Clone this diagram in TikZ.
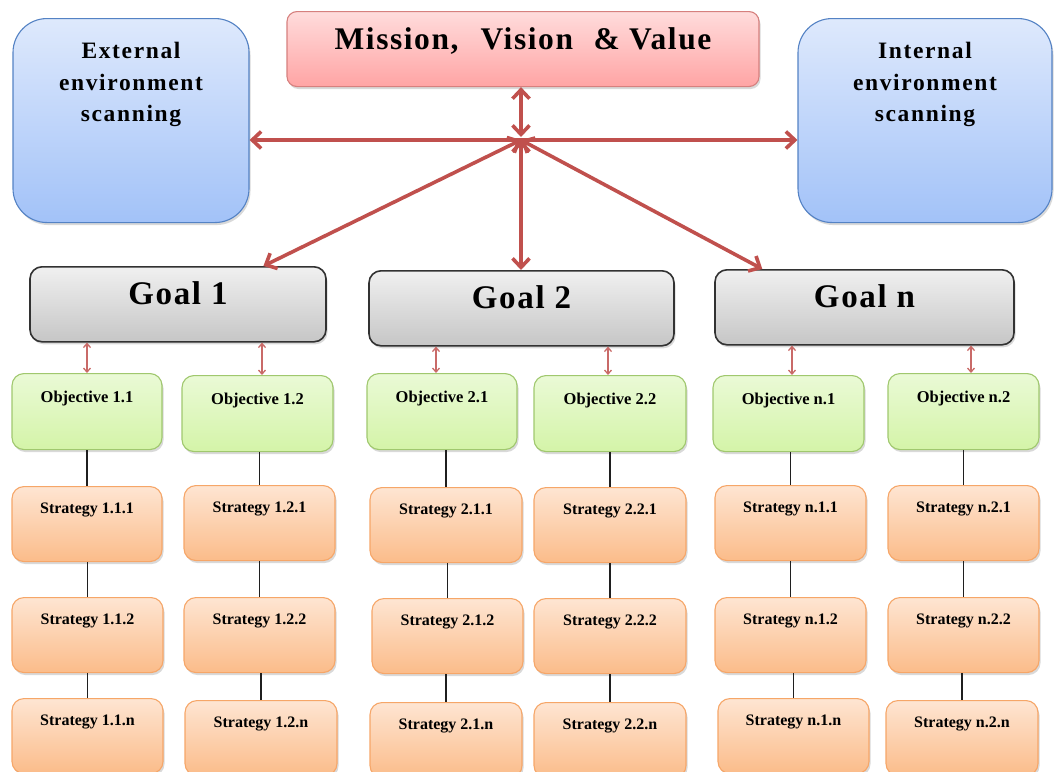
\documentclass[tikz,border=0pt]{standalone}
\usepackage{fontspec}
\setmainfont{Liberation Serif}
\newfontfamily\headfont{Liberation Serif}[LetterSpace=5]
\newfontfamily\scanfont{Liberation Serif}[LetterSpace=7]
\usetikzlibrary{arrows.meta,shadows,calc}

\definecolor{bluetop}{RGB}{222,233,252}
\definecolor{bluebot}{RGB}{162,194,248}
\definecolor{blueline}{RGB}{84,130,196}
\definecolor{redtop}{RGB}{255,220,220}
\definecolor{redbot}{RGB}{255,164,164}
\definecolor{redline}{RGB}{214,128,126}
\definecolor{graytop}{RGB}{240,240,240}
\definecolor{graybot}{RGB}{198,198,198}
\definecolor{grayline}{RGB}{50,50,50}
\definecolor{greentop}{RGB}{234,250,214}
\definecolor{greenbot}{RGB}{212,244,168}
\definecolor{greenline}{RGB}{160,200,110}
\definecolor{orangetop}{RGB}{254,229,210}
\definecolor{orangebot}{RGB}{251,188,138}
\definecolor{orangeline}{RGB}{246,166,104}
\definecolor{arrowred}{RGB}{192,80,77}

\begin{document}
\begin{tikzpicture}[x=1pt, y=-1pt,
  box/.style={draw, anchor=north, inner xsep=0pt, inner ysep=0pt, minimum height=0pt,
    rounded corners=12pt,
    drop shadow={opacity=0.3, shadow xshift=1.5pt, shadow yshift=-2.5pt}},
  scanbox/.style={box, rounded corners=34pt, draw=blueline, line width=1.1pt,
    top color=bluetop, bottom color=bluebot,
    text height=40pt, text depth=164pt,
    font=\scanfont\bfseries\fontsize{23.5}{31.5}\selectfont},
  missionbox/.style={box, rounded corners=10pt, draw=redline, line width=1.1pt,
    top color=redtop, bottom color=redbot,
    text height=38pt, text depth=37pt,
    font=\headfont\bfseries\fontsize{31.5}{34}\selectfont},
  goalbox/.style={box, draw=grayline, line width=1.6pt,
    top color=graytop, bottom color=graybot,
    text height=38pt, text depth=37pt,
    font=\headfont\bfseries\fontsize{33}{36}\selectfont},
  objbox/.style={box, draw=greenline, line width=1.1pt,
    top color=greentop, bottom color=greenbot,
    text height=29pt, text depth=47pt,
    font=\bfseries\fontsize{16.5}{19}\selectfont},
  stratbox/.style={box, draw=orangeline, line width=1.1pt,
    top color=orangetop, bottom color=orangebot,
    text height=27pt, text depth=48pt,
    font=\bfseries\fontsize{16}{19}\selectfont},
  bigarrow/.style={draw=arrowred, line width=3.6pt,
    {Straight Barb[length=9pt,width=17pt]}-{Straight Barb[length=9pt,width=17pt]}},
  smallarrow/.style={draw=arrowred!85, line width=1.3pt,
    {Straight Barb[length=4pt,width=7pt]}-{Straight Barb[length=4pt,width=7pt]}},
  link/.style={draw=black!88, line width=1.8pt}
]
\useasboundingbox (0,0) rectangle (1054,771);
\clip (0,0) rectangle (1054,771);

% top level
\node[scanbox, minimum width=236pt] (ext) at (131,18)
  {\begin{tabular}[t]{@{}c@{}}External\\environment\\scanning\end{tabular}};
\node[scanbox, minimum width=254pt] (int) at (925,18)
  {\begin{tabular}[t]{@{}c@{}}Internal\\environment\\scanning\end{tabular}};
\node[missionbox, minimum width=472pt] (mvv) at (523,11)
  {Mission,\hspace{0.4em} Vision\hspace{0.35em} \& Value};

% goals
\node[goalbox, minimum width=296pt] (g1) at (178,266) {Goal 1};
\node[goalbox, minimum width=305pt] (g2) at (521.5,270) {Goal 2};
\node[goalbox, minimum width=299pt] (gn) at (864.5,269) {Goal n};

% objectives
\node[objbox, minimum width=150pt] (o11) at (87,373)    {Objective 1.1};
\node[objbox, minimum width=151pt] (o12) at (257.5,375) {Objective 1.2};
\node[objbox, minimum width=150pt] (o21) at (442,373)   {Objective 2.1};
\node[objbox, minimum width=152pt] (o22) at (610,375)   {Objective 2.2};
\node[objbox, minimum width=151pt] (on1) at (788.5,375) {Objective n.1};
\node[objbox, minimum width=151pt] (on2) at (963.5,373) {Objective n.2};

% strategies, first row
\node[stratbox, minimum width=150pt] (s111) at (87,486)    {Strategy 1.1.1};
\node[stratbox, minimum width=151pt] (s121) at (259.5,485) {Strategy 1.2.1};
\node[stratbox, minimum width=152pt] (s211) at (446,487)   {Strategy 2.1.1};
\node[stratbox, minimum width=152pt] (s221) at (610,487)   {Strategy 2.2.1};
\node[stratbox, minimum width=151pt] (sn11) at (790.5,485) {Strategy n.1.1};
\node[stratbox, minimum width=151pt] (sn21) at (963.5,485) {Strategy n.2.1};

% strategies, second row
\node[stratbox, minimum width=151pt] (s112) at (87.5,597)  {Strategy 1.1.2};
\node[stratbox, minimum width=151pt] (s122) at (259.5,597) {Strategy 1.2.2};
\node[stratbox, minimum width=151pt] (s212) at (447.5,598) {Strategy 2.1.2};
\node[stratbox, minimum width=152pt] (s222) at (610,598)   {Strategy 2.2.2};
\node[stratbox, minimum width=151pt] (sn12) at (790.5,597) {Strategy n.1.2};
\node[stratbox, minimum width=151pt] (sn22) at (963.5,597) {Strategy n.2.2};

% strategies, last row
\node[stratbox, minimum width=151pt] (s11n) at (87.5,698)  {Strategy 1.1.n};
\node[stratbox, minimum width=152pt] (s12n) at (261,700)   {Strategy 1.2.n};
\node[stratbox, minimum width=152pt] (s21n) at (446,702)   {Strategy 2.1.n};
\node[stratbox, minimum width=152pt] (s22n) at (610,702)   {Strategy 2.2.n};
\node[stratbox, minimum width=151pt] (sn1n) at (793.5,698) {Strategy n.1.n};
\node[stratbox, minimum width=152pt] (sn2n) at (962,700)   {Strategy n.2.n};

% central hub of the red arrows
\coordinate (hub) at (521,140);
\draw[bigarrow] (hub -| ext.east) -- (hub -| int.west);
\draw[bigarrow] (hub |- mvv.south) -- ([yshift=3pt]hub);
\draw[bigarrow] (hub) -- ($(g1.north west)!0.787!(g1.north east)$);
\draw[bigarrow] (hub) -- (hub |- g2.north);
\draw[bigarrow] (hub) -- ($(gn.north west)!0.16!(gn.north east)$);

% goal to objective links
\draw[smallarrow] (o11.north |- g1.south) -- (o11.north);
\draw[smallarrow] ([xshift=4.5pt]o12.north |- g1.south) -- ([xshift=4.5pt]o12.north);
\draw[smallarrow] ([xshift=-6pt]o21.north |- g2.south) -- ([xshift=-6pt]o21.north);
\draw[smallarrow] ([xshift=-2pt]o22.north |- g2.south) -- ([xshift=-2pt]o22.north);
\draw[smallarrow] ([xshift=3.5pt]on1.north |- gn.south) -- ([xshift=3.5pt]on1.north);
\draw[smallarrow] ([xshift=7.5pt]on2.north |- gn.south) -- ([xshift=7.5pt]on2.north);

% objective to strategy chains
\foreach \o/\a/\b/\c in {o11/s111/s112/s11n, o12/s121/s122/s12n,
                         o21/s211/s212/s21n, o22/s221/s222/s22n,
                         on1/sn11/sn12/sn1n, on2/sn21/sn22/sn2n}{
  \draw[link] (\a.north |- \o.south) -- (\a.north);
  \draw[link] (\b.north |- \a.south) -- (\b.north);
  \draw[link] (\c.north |- \b.south) -- (\c.north);
}
\end{tikzpicture}
\end{document}
